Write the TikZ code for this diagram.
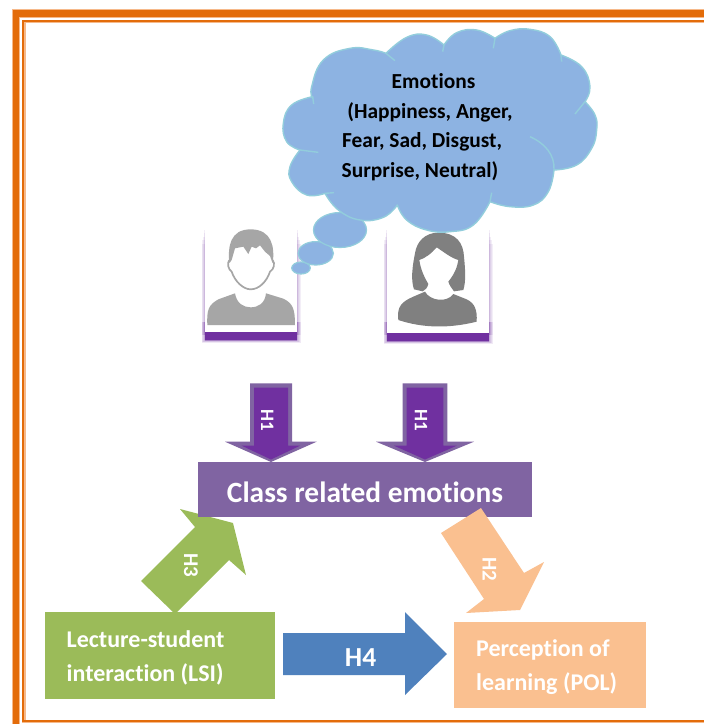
\documentclass[tikz,border=0pt]{standalone}
\usepackage{fontspec}
\setmainfont[Ligatures=NoCommon]{Carlito}
\definecolor{orng}{HTML}{E36C0A}
\definecolor{orngl}{HTML}{F6B98A}
\definecolor{dpurple}{HTML}{7030A0}
\definecolor{mpurple}{HTML}{8064A2}
\definecolor{cloudf}{HTML}{8DB3E2}
\definecolor{cloudl}{HTML}{92CDDC}
\definecolor{grn}{HTML}{9BBB59}
\definecolor{blu}{HTML}{4F81BD}
\definecolor{peach}{HTML}{FAC090}
\definecolor{gray1}{HTML}{A6A6A6}
\definecolor{gray2}{HTML}{808080}
\tikzset{
  emo/.style={font=\bfseries\fontsize{21.4}{23}\selectfont,text=black,inner sep=0pt},
  hlabel/.style={font=\bfseries\fontsize{#1}{#1}\selectfont,text=white,inner sep=0pt},
  boxlabel/.style={font=\bfseries\fontsize{24}{26}\selectfont,text=white,inner sep=0pt,anchor=west},
  cloudedge/.style={draw=cloudl,line width=1.4pt},
  zoomA/.style={shift={(260,30)},x=0.33333pt,y=-0.33333pt},
  zoomB/.style={shift={(180,210)},x=0.33333pt,y=-0.33333pt},
}
\begin{document}
\begin{tikzpicture}[x=1pt,y=-1pt]
\useasboundingbox (0,0) rectangle (704,724);
\fill[white] (0,0) rectangle (704,724);
% page borders
\draw[orngl,line width=8.5pt,miter limit=10] (704,13.5) -- (16,13.5) -- (16,724);
\draw[orng,line width=6.5pt] (704,13.5) -- (16,13.5) -- (16,724);
\draw[orngl,line width=3.4pt] (704,21.6) -- (23.8,21.6) -- (23.8,721.6) -- (704,721.6);
\draw[orng,line width=2.2pt] (704,21) -- (23.2,21) -- (23.2,721) -- (704,721);
% person cards with soft purple shadows
\foreach \k in {0.7,1.4,2.1,2.8,3.5}{
  \fill[dpurple,opacity=0.08] ({205-\k},{226+5*\k}) rectangle ({297+\k},{335});
  \fill[dpurple,opacity=0.08] ({387-\k},{226+5*\k}) rectangle ({489+\k},{335});
  \fill[dpurple,opacity=0.10] ({205-\k},{322}) rectangle ({297+\k},{339+1.2*\k});
  \fill[dpurple,opacity=0.10] ({387-\k},{322}) rectangle ({489+\k},{340+1.2*\k});
}
\fill[dpurple] (205,330) rectangle (297,339.5);
\fill[dpurple] (387,330) rectangle (489,340.5);
\fill[dpurple,opacity=0.4] (205,339.5) rectangle (297,341);
\fill[dpurple,opacity=0.4] (387,340.5) rectangle (489,342);
\node[fill=white,inner sep=0pt,minimum width=92pt,minimum height=107pt] (cardA) at (251,278.5) {};
\node[fill=white,inner sep=0pt,minimum width=102pt,minimum height=108pt] (cardB) at (438,279) {};
% man
\begin{scope}[zoomB]
\fill[gray1] (82,345) .. controls (80,300) and (85,285) .. (115,268) -- (165,250)
  .. controls (170,280) and (190,292) .. (212,292) .. controls (235,292) and (255,280) .. (258,250)
  -- (310,266) .. controls (340,280) and (345,300) .. (345,345) -- cycle;
\draw[gray1,line width=1.7pt,line join=round] (148,150) .. controls (140,160) and (145,178) .. (155,185)
  .. controls (165,215) and (190,238) .. (212,238) .. controls (237,238) and (260,215) .. (270,185)
  .. controls (282,178) and (286,160) .. (278,150);
\fill[gray1] (148,160) .. controls (143,110) and (150,58) .. (212,58)
  .. controls (275,58) and (285,110) .. (278,160)
  -- (270,138) -- (255,125) -- (240,106) -- (228,115) -- (215,110) -- (205,132) -- (190,110) -- (165,115) -- (155,150) -- cycle;
\end{scope}
% woman
\begin{scope}[zoomB]
\fill[gray2] (655,330) .. controls (650,290) and (665,275) .. (700,260) -- (735,245)
  .. controls (750,272) and (800,280) .. (820,252) -- (860,268) .. controls (885,280) and (892,300) .. (890,335)
  .. controls (810,355) and (730,355) .. (655,330) -- cycle;
\fill[gray2] (775,68) .. controls (830,68) and (850,100) .. (852,140) .. controls (856,180) and (858,215) .. (850,240)
  -- (822,244) .. controls (815,235) and (808,225) .. (805,215) .. controls (825,190) and (832,170) .. (835,150)
  .. controls (815,145) and (790,125) .. (770,112) .. controls (755,130) and (735,145) .. (718,150)
  .. controls (722,180) and (735,205) .. (745,222) .. controls (742,235) and (735,240) .. (728,244)
  -- (702,238) .. controls (692,210) and (697,170) .. (705,130) .. controls (710,95) and (735,68) .. (775,68) -- cycle;
\end{scope}
% thought bubbles
\fill[cloudf,draw=cloudl,line width=1.2pt] (301,268) ellipse [x radius=9.3,y radius=6];
\fill[cloudf,draw=cloudl,line width=1.2pt] (315.7,253.3) ellipse [x radius=17.7,y radius=11.7];
\fill[cloudf,draw=cloudl,line width=1.2pt] (340,230) ellipse [x radius=26.5,y radius=17.5];
% cloud
\begin{scope}[zoomA]
\fill[cloudf,cloudedge,line join=round]
  plot[smooth,tension=0.75] coordinates {(158,205) (155,170) (190,90) (270,55) (340,60) (378,70)}
  -- plot[smooth,tension=0.75] coordinates {(378,70) (440,22) (500,15) (552,45)}
  -- plot[smooth,tension=0.75] coordinates {(552,45) (590,8) (650,0) (705,25)}
  -- plot[smooth,tension=0.75] coordinates {(705,25) (750,2) (810,-2) (870,20) (903,75)}
  -- plot[smooth,tension=0.75] coordinates {(903,75) (965,110) (990,170) (975,215)}
  -- plot[smooth,tension=0.75] coordinates {(975,215) (1005,255) (1010,300) (995,355) (950,405) (882,420)}
  -- plot[smooth,tension=0.75] coordinates {(882,420) (865,485) (820,525) (750,530) (690,515)}
  -- plot[smooth,tension=0.75] coordinates {(690,515) (640,585) (570,605) (500,600) (440,570) (412,525)}
  -- plot[smooth,tension=0.75] coordinates {(412,525) (370,562) (300,570) (235,540) (195,490)}
  -- plot[smooth,tension=0.75] coordinates {(195,490) (140,495) (95,455) (90,410) (120,360)}
  -- plot[smooth,tension=0.75] coordinates {(120,360) (80,335) (70,280) (95,225) (158,200)}
  -- cycle;
\draw[cloudedge] (158,200) -- (161,222);
\draw[cloudedge] (378,70) -- (405,92);
\draw[cloudedge] (552,45) -- (548,65);
\draw[cloudedge] (705,25) -- (700,55);
\draw[cloudedge] (903,75) -- (905,95);
\draw[cloudedge] (975,215) -- (945,252);
\draw[cloudedge] (882,420) .. controls (885,375) and (855,340) .. (810,320);
\draw[cloudedge] (690,515) -- (695,488);
\draw[cloudedge] (195,490) -- (222,488);
\draw[cloudedge] (120,360) -- (175,367);
\end{scope}
\node[emo] (e1) at (433.5,81.5) {Emotions};
\node[emo] (e2) at (430,112) {(Happiness, Anger,};
\node[emo,anchor=west] (e3) at (342,141.5) {Fear, Sad, Disgust,};
\node[emo,anchor=west] (e4) at (341.5,171.5) {Surprise, Neutral)};
% H1 arrows
\fill[mpurple] (250,383.3) -- (292,383.3) -- (292,441.7) -- (316.7,441.7) -- (271,462) -- (225,441.7) -- (250,441.7) -- cycle;
\fill[dpurple] (254,387.7) -- (288,387.7) -- (288,445.7) -- (300,445.7) -- (271,459.5) -- (241.7,445.7) -- (254,445.7) -- cycle;
\node[hlabel=19,rotate=-90] (h1a) at (267.3,420) {H1};
\fill[mpurple] (402.7,383.3) -- (447.3,383.3) -- (447.3,441.7) -- (474,441.7) -- (425,462) -- (376,441.7) -- (402.7,441.7) -- cycle;
\fill[dpurple] (406.7,387.7) -- (443.3,387.7) -- (443.3,445.7) -- (456.7,445.7) -- (425,459.5) -- (394,445.7) -- (406.7,445.7) -- cycle;
\node[hlabel=19,rotate=-90] (h1b) at (421,420.5) {H1};
% H3 arrow
\fill[grn] (173,612) -- (141,581) -- (195,527) -- (180,509) -- (233,523) -- (246,575) -- (229,560) -- (177,612) -- cycle;
\node[hlabel=21,rotate=-90] (h3) at (191,565) {H3};
% class box
\node[fill=mpurple,inner sep=0pt,minimum width=334pt,minimum height=55pt] (cls) at (365,489.5) {};
\node[font=\bfseries\fontsize{29.4}{31}\selectfont,text=white,inner sep=0pt] (clst) at (365,492.5) {Class related emotions};
% H2 arrow
\fill[peach] (481,508) -- (441,533) -- (484,599) -- (466,613) -- (520,610) -- (544,562) -- (524,573) -- cycle;
\node[hlabel=21,rotate=-90] (h2) at (489.5,569) {H2};
% LSI
\node[fill=grn,inner sep=0pt,minimum width=230pt,minimum height=87pt] (lsi) at (160,655.5) {};
\node[boxlabel] (lsi1) at (66.5,639.5) {Lecture-student};
\node[boxlabel] (lsi2) at (66.5,674) {interaction (LSI)};
% H4 arrow
\fill[blu] (283,633) -- (405,633) -- (405,612) -- (447,654) -- (405,695) -- (405,675) -- (283,675) -- cycle;
\node[hlabel=27.5] (h4) at (360.6,657.5) {H4};
% POL
\node[fill=peach,inner sep=0pt,minimum width=192pt,minimum height=86pt] (pol) at (550,665) {};
\node[boxlabel] (pol1) at (476,649.5) {Perception of};
\node[boxlabel] (pol2) at (476,684) {learning (POL)};
\end{tikzpicture}
\end{document}
